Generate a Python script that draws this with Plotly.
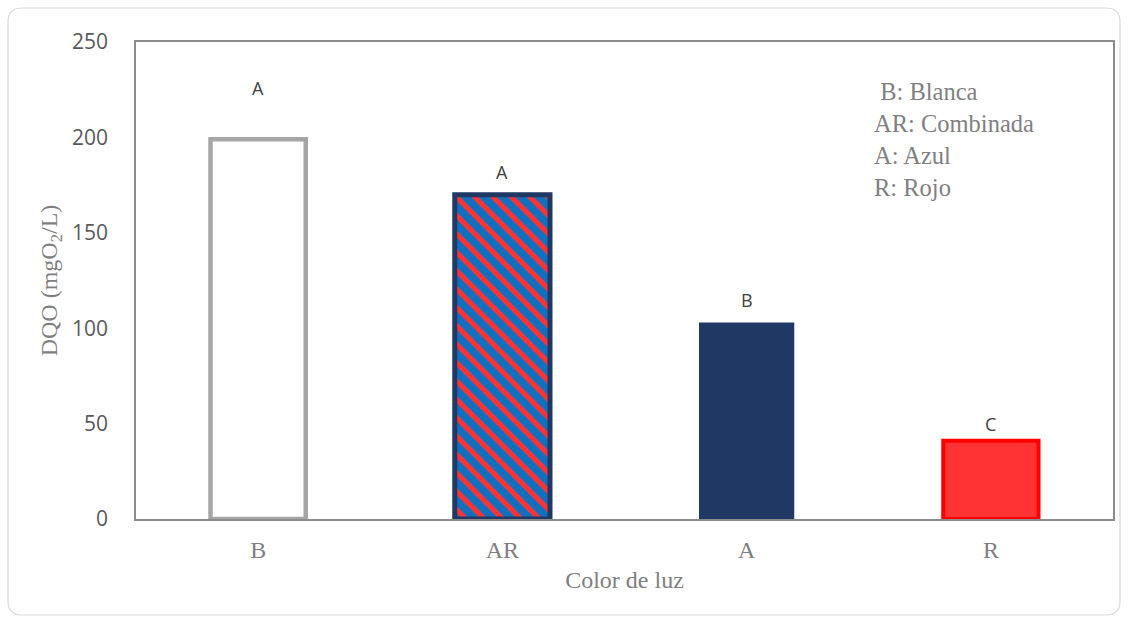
import plotly.graph_objects as go

categories = ["B", "AR", "A", "R"]
dqo_values = [199, 170, 103, 41]
group_letters = ["A", "A", "B", "C"]
letter_heights = [226, 182, 115, 50]
y_ticks = [0, 50, 100, 150, 200, 250]
legend_lines = [" B: Blanca", "AR: Combinada", "A: Azul", "R: Rojo"]

fill_colors = ["#ffffff", "#1070c0", "#203864", "#ff3333"]
line_colors = ["#a6a6a6", "#203864", "#203864", "#ff0000"]
line_widths = [4.5, 5, 0, 4]
pattern_shapes = ["", "\\", "", ""]
stripe_colors = ["#ffffff", "#ff3333", "#203864", "#ff3333"]

W, H = 1128, 623
L, R, T, B = 136, 15, 42, 104

fig = go.Figure()
for cat, val, fc, lc, lw, shp, sc in zip(categories, dqo_values, fill_colors, line_colors,
                                         line_widths, pattern_shapes, stripe_colors):
    marker = dict(color=fc, line=dict(color=lc, width=lw))
    if shp:
        marker["pattern"] = dict(shape=shp, fgcolor=sc, bgcolor=fc, fgopacity=1,
                                 size=13, solidity=0.4, fillmode="replace")
    fig.add_trace(go.Bar(x=[cat], y=[val], width=0.39, marker=marker, showlegend=False))

for c, letter, h in zip(categories, group_letters, letter_heights):
    fig.add_annotation(x=c, y=h, text=letter, showarrow=False,
                       font=dict(family="Open Sans", size=18, color="#404040"))

fig.add_annotation(xref="paper", yref="paper", x=(872 - L) / (W - L - R), y=(519 - 76) / (623 - T - B),
                   xanchor="left", yanchor="top", align="left", showarrow=False,
                   text="<br>".join(legend_lines),
                   font=dict(family="Liberation Serif", size=24.5, color="#7f7f7f"))

pw, ph = W - L - R, H - T - B
def px(x):
    return (x - L) / pw
def py(y):
    return (H - B - y) / ph
x0, x1, y0, y1, r = 8, 1120, 8, 615, 14
path = (f"M {px(x0 + r)},{py(y0)} L {px(x1 - r)},{py(y0)} Q {px(x1)},{py(y0)} {px(x1)},{py(y0 + r)} "
        f"L {px(x1)},{py(y1 - r)} Q {px(x1)},{py(y1)} {px(x1 - r)},{py(y1)} "
        f"L {px(x0 + r)},{py(y1)} Q {px(x0)},{py(y1)} {px(x0)},{py(y1 - r)} "
        f"L {px(x0)},{py(y0 + r)} Q {px(x0)},{py(y0)} {px(x0 + r)},{py(y0)} Z")
fig.add_shape(type="path", xref="paper", yref="paper", path=path,
              line=dict(color="#d9d9d9", width=1.2), layer="below")

fig.update_layout(
    width=W, height=H,
    margin=dict(l=L, r=R, t=T, b=B),
    paper_bgcolor="white", plot_bgcolor="white",
    barmode="overlay",
    xaxis=dict(
        showline=True, linecolor="#8c8c8c", linewidth=1.5, mirror=True,
        categoryorder="array", categoryarray=categories,
        ticks="", tickfont=dict(family="Liberation Serif", size=24, color="#7f7f7f"),
        title=dict(text="Color de luz", font=dict(family="Liberation Serif", size=24, color="#7f7f7f"),
                   standoff=10),
        ticklabelstandoff=8,
    ),
    yaxis=dict(
        range=[0, 250], tickvals=y_ticks, showgrid=False, zeroline=False,
        showline=True, linecolor="#8c8c8c", linewidth=1.5, mirror=True,
        ticks="", tickfont=dict(family="Open Sans", size=21, color="#595959"),
        ticklabelstandoff=22,
        title=dict(text="DQO (mgO<sub>2</sub>/L)", font=dict(family="Liberation Serif", size=24, color="#7f7f7f"),
                   standoff=8),
    ),
)

fig.write_html("out.html")
